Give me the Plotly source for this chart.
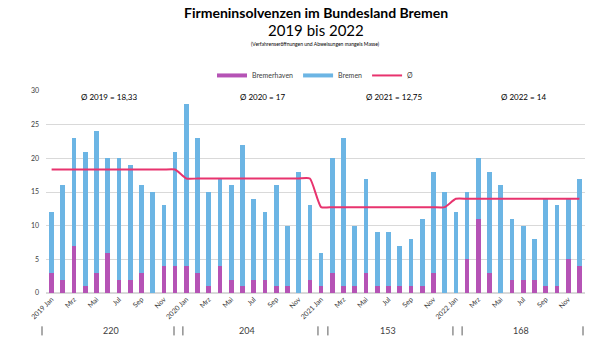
import plotly.graph_objects as go

months = ["Jan", "Feb", "Mrz", "Apr", "Mai", "Jun", "Jul", "Aug", "Sep", "Okt", "Nov", "Dez"]
years = [2019, 2020, 2021, 2022]

# Totals (Land Bremen) per month
total_2019 = [12, 16, 23, 21, 24, 20, 20, 19, 16, 15, 13, 21]
total_2020 = [28, 23, 15, 17, 16, 22, 14, 12, 16, 10, 18, 13]
total_2021 = [6, 20, 23, 10, 17, 9, 9, 7, 8, 11, 18, 15]
total_2022 = [12, 15, 20, 18, 16, 11, 10, 8, 14, 13, 14, 17]

bremerhaven_2019 = [3, 2, 7, 1, 3, 6, 2, 2, 3, 0, 4, 4]
bremerhaven_2020 = [4, 3, 1, 4, 2, 1, 2, 2, 1, 1, 0, 2]
bremerhaven_2021 = [1, 3, 1, 1, 3, 1, 1, 1, 1, 1, 3, 0]
bremerhaven_2022 = [0, 5, 11, 3, 0, 2, 2, 2, 1, 1, 5, 4]

avg_labels = ["18,33", "17", "12,75", "14"]

totals = [total_2019, total_2020, total_2021, total_2022]
bhv = [bremerhaven_2019, bremerhaven_2020, bremerhaven_2021, bremerhaven_2022]

cats, y_bhv, y_hb, y_avg = [], [], [], []
for yr, tot, bh in zip(years, totals, bhv):
    avg = sum(tot) / len(tot)
    for m, t, b in zip(months, tot, bh):
        cats.append(f"{yr} {m}")
        y_bhv.append(b)
        y_hb.append(t - b)
        y_avg.append(avg)

tickvals = cats[::2]
ticktext = [c if c.endswith("Jan") else c.split(" ")[1] for c in tickvals]

C_BHV = "#B553B5"
C_HB = "#6CB5E4"
C_AVG = "#E8336E"
FONT = "Lato"

fig = go.Figure()
fig.add_trace(go.Bar(x=cats, y=y_bhv, name="Bremerhaven", marker_color=C_BHV, marker_line_width=0,
                     showlegend=False, legendgroup="bhv"))
fig.add_trace(go.Bar(x=cats, y=y_hb, name="Bremen", marker_color=C_HB, marker_line_width=0,
                     showlegend=False, legendgroup="hb"))
# legend proxies (thick line keys as in the original)
fig.add_trace(go.Scatter(x=[None], y=[None], name="Bremerhaven", mode="lines",
                         line=dict(color=C_BHV, width=4), legendgroup="bhv"))
fig.add_trace(go.Scatter(x=[None], y=[None], name="Bremen", mode="lines",
                         line=dict(color=C_HB, width=4), legendgroup="hb"))
fig.add_trace(go.Scatter(x=cats, y=y_avg, name="Ø", mode="lines",
                         line=dict(color=C_AVG, width=2, shape="spline", smoothing=0.5)))

ann = []
ann.append(dict(text="<b>Firmeninsolvenzen im Bundesland Bremen</b>", x=0.5, y=1.39, xref="paper", yref="paper",
                showarrow=False, font=dict(family=FONT, size=14, color="#000000"), xanchor="center", yanchor="middle"))
ann.append(dict(text="2019 bis 2022", x=0.5, y=1.30, xref="paper", yref="paper",
                showarrow=False, font=dict(family=FONT, size=15, color="#000000"), xanchor="center", yanchor="middle"))
ann.append(dict(text="(Verfahrenseröffnungen und Abweisungen mangels Masse)", x=0.5, y=1.235, xref="paper", yref="paper",
                showarrow=False, font=dict(family=FONT, size=5, color="#000000"), xanchor="center", yanchor="middle"))

avg_x = [5.1, 18.8, 30.5, 42.0]
for yr, lab, ax in zip(years, avg_labels, avg_x):
    ann.append(dict(text=f"Ø {yr} = {lab}", x=ax, y=29.1, xref="x", yref="y", showarrow=False,
                    font=dict(family=FONT, size=8, color="#000000"), xanchor="center", yanchor="middle"))

sum_x = [5.3, 17.4, 30.0, 41.8]
for tot, sx in zip(totals, sum_x):
    ann.append(dict(text=str(sum(tot)), x=sx, y=-0.185, xref="x", yref="paper", showarrow=False,
                    font=dict(family=FONT, size=9, color="#404040"), xanchor="center", yanchor="middle"))

shapes = []
for sep in [-0.0074, 0.2375, 0.254, 0.5046, 0.523, 0.755, 0.772, 0.9963]:
    shapes.append(dict(type="line", xref="paper", yref="paper", x0=sep, x1=sep, y0=-0.165, y1=-0.21,
                       line=dict(color="#595959", width=1)))

fig.update_layout(
    width=610, height=343,
    margin=dict(l=46, r=25, t=91, b=50),
    barmode="stack", bargap=0.58,
    plot_bgcolor="white", paper_bgcolor="white",
    font=dict(family=FONT, size=7, color="#404040"),
    showlegend=True,
    legend=dict(orientation="h", x=0.5, xanchor="center", y=1.077, yanchor="middle",
                traceorder="normal", font=dict(family=FONT, size=7, color="#404040"),
                itemwidth=30, bgcolor="rgba(0,0,0,0)"),
    xaxis=dict(type="category", tickmode="array", tickvals=tickvals, ticktext=ticktext,
               tickangle=-45, tickfont=dict(family=FONT, size=7, color="#404040"),
               showgrid=False, showline=False, ticks="", range=[-0.5, 47.5]),
    yaxis=dict(range=[0, 30], dtick=5, showgrid=True, gridcolor="#D9D9D9", gridwidth=1,
               zeroline=True, zerolinecolor="#D9D9D9", tickfont=dict(family=FONT, size=7, color="#404040"),
               ticks="", ticklabelstandoff=6),
    annotations=ann,
    shapes=shapes,
)

fig.write_html("out.html")
